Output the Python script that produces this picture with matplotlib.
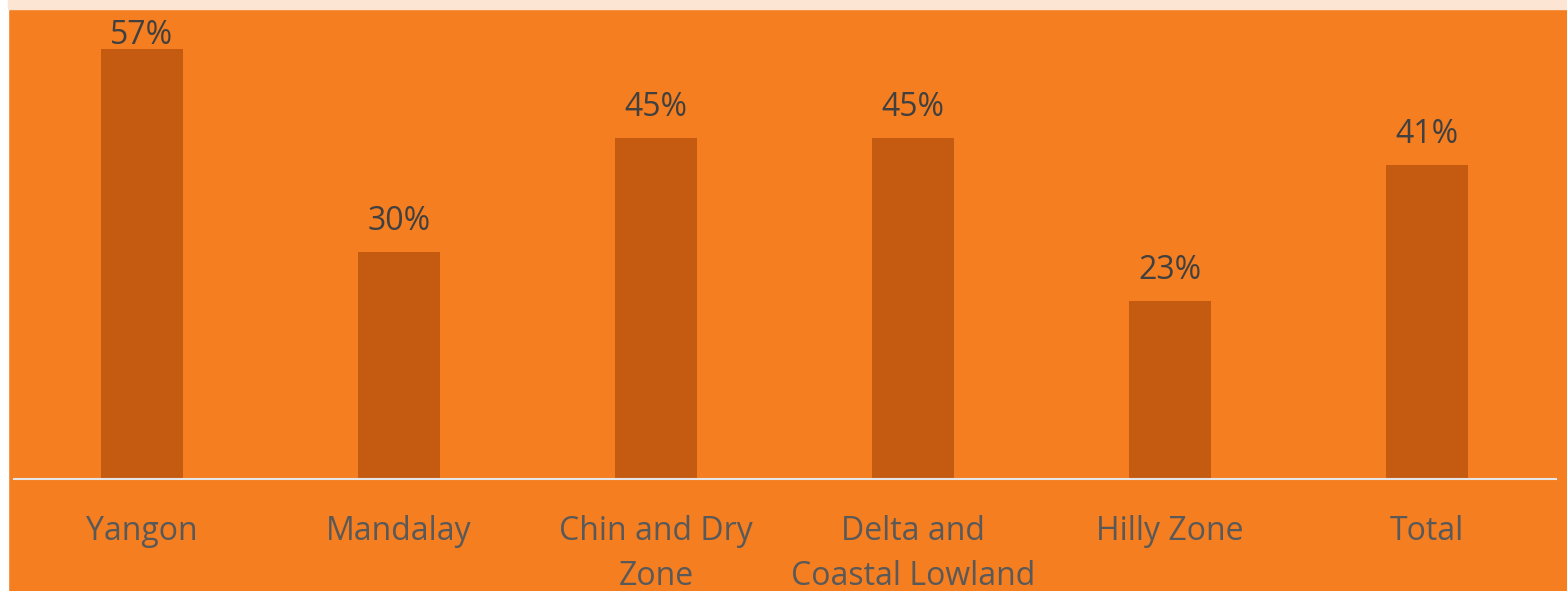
import matplotlib.pyplot as plt
from matplotlib.patches import Rectangle

# data (bar heights, labels as printed)
categories = ["Yangon", "Mandalay", "Chin and Dry\nZone", "Delta and\nCoastal Lowland", "Hilly Zone", "Total"]
values = [0.567, 0.300, 0.450, 0.450, 0.235, 0.414]
value_labels = ["57%", "30%", "45%", "45%", "23%", "41%"]

BG = "#F47E20"
BAR = "#C55A11"
W, H = 1567, 591

fig = plt.figure(figsize=(W / 100, H / 100), dpi=100, facecolor=BG)

# white strip on the left, peach strip on top
fig.patches.append(Rectangle((0, 0), 8 / W, 1, transform=fig.transFigure, color="white", zorder=0))
fig.patches.append(Rectangle((8 / W, 1 - 9 / H), 1, 9 / H, transform=fig.transFigure, color="#FDE5D3", zorder=0))

left, right, bottom, top = 13.5, 1555.5, 479, 9
ax = fig.add_axes([left / W, 1 - bottom / H, (right - left) / W, (bottom - top) / H])
ax.set_facecolor("none")

x = range(len(categories))
ax.bar(x, values, width=0.32, color=BAR, zorder=2)
ax.set_xlim(-0.5, len(categories) - 0.5)
ax.set_ylim(0, 0.62)

# labels sit above the bar, but are pushed down when they would leave the plot area
for xi, v, lab in zip(x, values, value_labels):
    ax.text(xi, min(v + 0.040, 0.585), lab, ha="center", va="center",
            fontsize=23, color="#404040", family="Open Sans")

for s in ["top", "right", "left"]:
    ax.spines[s].set_visible(False)
ax.spines["bottom"].set_color("#E6E6E6")
ax.spines["bottom"].set_linewidth(1.5)
ax.set_yticks([])
ax.set_xticks(list(x))
ax.set_xticklabels(categories, fontsize=23, color="#595959", family="Open Sans", linespacing=1.47, va="top")
ax.tick_params(axis="x", length=0, pad=26)

fig.savefig("out.png", dpi=100, facecolor=BG)
